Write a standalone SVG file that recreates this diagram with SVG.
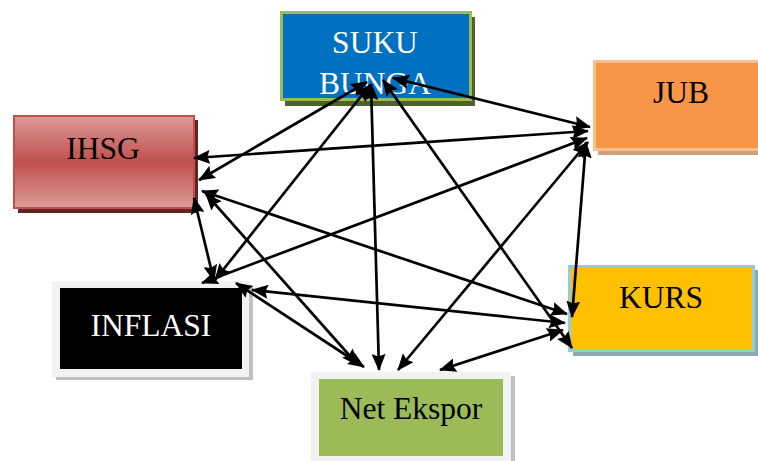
<svg xmlns="http://www.w3.org/2000/svg" width="758" height="461" viewBox="0 0 758 461">
<style>
.t{font-family:"Liberation Serif","Times New Roman",serif;font-size:31.5px;text-anchor:middle}
.w{fill:#ffffff}
.k{fill:#000000}
.c line{stroke:#000;stroke-width:2.7;marker-start:url(#ah);marker-end:url(#ah)}
</style>
<defs>
<marker id="ah" markerUnits="userSpaceOnUse" markerWidth="17" markerHeight="14" viewBox="0 0 17 14" refX="16" refY="7" orient="auto-start-reverse">
<path d="M0,0 L17,7 L0,14 L2.5,7 Z" fill="#000"/>
</marker>
<linearGradient id="gr" x1="0" y1="0" x2="0" y2="1">
<stop offset="0" stop-color="#dc9a98"/>
<stop offset="0.5" stop-color="#c0504d"/>
<stop offset="1" stop-color="#dc9a98"/>
</linearGradient>
</defs>
<rect width="758" height="461" fill="#fff"/>
<g id="suku-bunga">
<rect x="285" y="17" width="190" height="89" fill="#4f6228"/>
<rect x="281.5" y="12.5" width="189" height="87" fill="#0070c0" stroke="#9bbb59" stroke-width="3"/>
<text class="t w" x="375" y="53">SUKU</text>
<text class="t w" x="375" y="94">BUNGA</text>
</g>
<g id="ihsg">
<rect x="18" y="120" width="180" height="93" fill="#632523"/>
<rect x="14" y="116" width="180" height="92" fill="url(#gr)" stroke="#c0504d" stroke-width="2"/>
<text class="t k" x="103" y="159">IHSG</text>
</g>
<g id="jub">
<rect x="598" y="66" width="170" height="89" fill="#cfa07a"/>
<rect x="594.5" y="61.5" width="170" height="88" fill="#f79646" stroke="#fac08f" stroke-width="3"/>
<text class="t k" x="681" y="103">JUB</text>
</g>
<g id="kurs">
<rect x="573" y="270" width="185" height="86" fill="#8ea9b0"/>
<rect x="569.5" y="266.5" width="184" height="84" fill="#ffc000" stroke="#92cddc" stroke-width="3"/>
<text class="t k" x="661" y="308">KURS</text>
</g>
<g id="inflasi">
<rect x="56" y="285" width="197" height="95" fill="#bfbfbf"/>
<rect x="52" y="281" width="197" height="96" fill="#f2f2f2"/>
<rect x="60" y="288" width="182" height="81" fill="#000"/>
<text class="t w" x="151" y="336">INFLASI</text>
</g>
<g id="net-ekspor">
<rect x="315" y="376" width="200" height="90" fill="#bfbfbf"/>
<rect x="311" y="372" width="200" height="92" fill="#f2f2f2"/>
<rect x="319" y="379" width="184" height="77" fill="#9bbb59"/>
<text class="t k" x="411" y="419">Net Ekspor</text>
</g>
<g id="connectors" class="c">
<line x1="199" y1="180" x2="367" y2="82"/>
<line x1="194" y1="158" x2="588" y2="131"/>
<line x1="202" y1="191" x2="567" y2="314"/>
<line x1="206" y1="194" x2="358" y2="365"/>
<line x1="194" y1="198" x2="214" y2="281"/>
<line x1="370" y1="85" x2="215" y2="280"/>
<line x1="371" y1="84" x2="379" y2="370"/>
<line x1="383" y1="80" x2="572" y2="348"/>
<line x1="393" y1="78" x2="590" y2="127"/>
<line x1="587" y1="138" x2="202" y2="283"/>
<line x1="236" y1="283" x2="364" y2="367"/>
<line x1="252" y1="290" x2="565" y2="323"/>
<line x1="588" y1="142" x2="398" y2="370"/>
<line x1="586" y1="142" x2="572" y2="317"/>
<line x1="563" y1="330" x2="440" y2="370"/>
</g>
</svg>
